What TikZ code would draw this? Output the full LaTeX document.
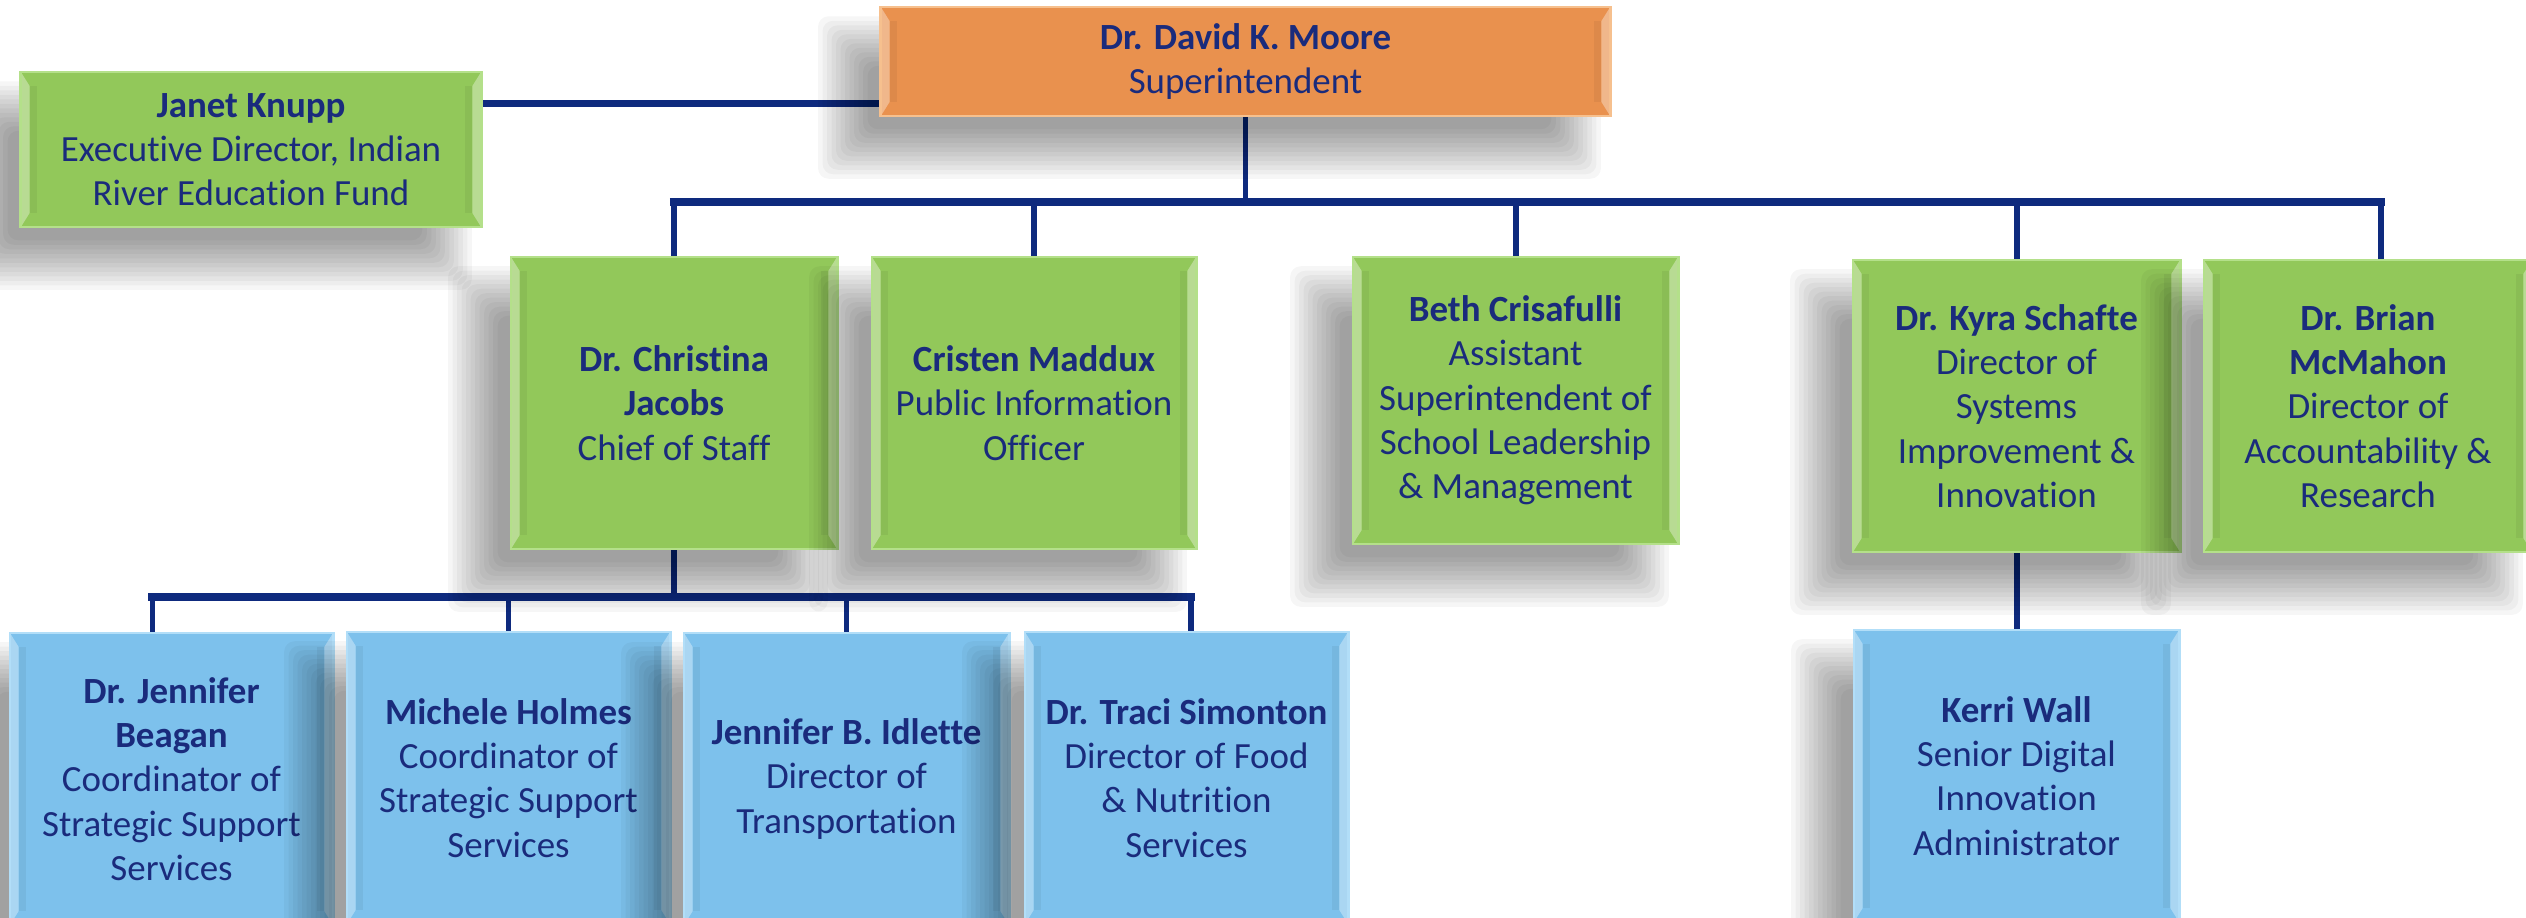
\documentclass[tikz,border=0pt]{standalone}
\usepackage{fontspec}
\setmainfont{Carlito}[Ligatures=NoCommon]
\definecolor{gfill}{HTML}{92C85A}
\definecolor{gedge}{HTML}{B4E08A}
\definecolor{ofill}{HTML}{E9914E}
\definecolor{oedge}{HTML}{F6C08E}
\definecolor{bfill}{HTML}{7DC1EC}
\definecolor{bedge}{HTML}{B2DEF8}
\definecolor{navy}{HTML}{1A2B7C}
\definecolor{lnavy}{HTML}{0E2A7E}
\newcommand\myshadow[1]{%
  \foreach \k in {0,...,11}{%
    \pgfmathsetmacro\sa{-0.36-0.26+0.045*\k}%
    \pgfmathsetmacro\sb{-0.36+0.26-0.045*\k}%
    \fill[black,opacity=0.034,rounded corners=3pt] ([shift={(\sa cm,\sa cm)}]#1.south west) rectangle ([shift={(\sb cm,\sb cm)}]#1.north east);
  }}
\tikzset{
  bevel/.style={path picture={
    \fill[white,opacity=0.35] (path picture bounding box.north west) -- (path picture bounding box.south west)
      -- ([shift={(2.5pt,4pt)}]path picture bounding box.south west) -- ([shift={(2.5pt,-4pt)}]path picture bounding box.north west) -- cycle;
    \fill[white,opacity=0.35] (path picture bounding box.north east) -- (path picture bounding box.south east)
      -- ([shift={(-2.5pt,4pt)}]path picture bounding box.south east) -- ([shift={(-2.5pt,-4pt)}]path picture bounding box.north east) -- cycle;
    \fill[black,opacity=0.05] ([shift={(2.5pt,-4pt)}]path picture bounding box.north west) rectangle ([shift={(4.5pt,4pt)}]path picture bounding box.south west);
    \fill[black,opacity=0.05] ([shift={(-2.5pt,-4pt)}]path picture bounding box.north east) rectangle ([shift={(-4.5pt,4pt)}]path picture bounding box.south east);
  }},
  box/.style={rectangle, inner sep=0pt, align=center, text=navy,
    font=\fontsize{10.5pt}{12.6pt}\selectfont, line width=0.8pt, bevel},
  gbox/.style={box, fill=gfill, draw=gedge},
  obox/.style={box, fill=ofill, draw=oedge},
  bbox/.style={box, fill=bfill, draw=bedge},
  conn/.style={draw=lnavy, line width=1.7pt},
  bus/.style={draw=lnavy, line width=2.4pt},
}
\begin{document}
\begin{tikzpicture}[x=0.01cm,y=-0.01cm]
\clip (0,0) rectangle (2526,918);
\fill[white] (0,0) rectangle (2526,918);
% coordinates for buses
\coordinate (bus1) at (0,202);
\coordinate (bus2) at (0,597);
% nodes (positions)
\path (1245.5,61.5) coordinate (csup)
      (251,149.5) coordinate (cjanet)
      (674,403) coordinate (cchr)
      (1034,403) coordinate (ccri)
      (1515.5,400.5) coordinate (cbeth)
      (2016.5,406) coordinate (ckyra)
      (2368,406) coordinate (cbrian)
      (171.5,779) coordinate (cbea)
      (508.5,778) coordinate (cmic)
      (846.5,779) coordinate (cidl)
      (1186.5,778) coordinate (ctra)
      (2016.5,776) coordinate (cker);
% invisible helper nodes to get anchors for connectors and shadows
\node[minimum width=7.29cm, minimum height=1.09cm, inner sep=0pt] (sup) at (csup) {};
\node[minimum width=4.60cm, minimum height=1.55cm, inner sep=0pt] (janet) at (cjanet) {};
\node[minimum width=3.26cm, minimum height=2.92cm, inner sep=0pt] (chr) at (cchr) {};
\node[minimum width=3.24cm, minimum height=2.92cm, inner sep=0pt] (cri) at (ccri) {};
\node[minimum width=3.25cm, minimum height=2.87cm, inner sep=0pt] (beth) at (cbeth) {};
\node[minimum width=3.27cm, minimum height=2.92cm, inner sep=0pt] (kyra) at (ckyra) {};
\node[minimum width=3.28cm, minimum height=2.92cm, inner sep=0pt] (brian) at (cbrian) {};
\node[minimum width=3.23cm, minimum height=2.92cm, inner sep=0pt] (bea) at (cbea) {};
\node[minimum width=3.23cm, minimum height=2.92cm, inner sep=0pt] (mic) at (cmic) {};
\node[minimum width=3.25cm, minimum height=2.92cm, inner sep=0pt] (idl) at (cidl) {};
\node[minimum width=3.23cm, minimum height=2.92cm, inner sep=0pt] (tra) at (ctra) {};
\node[minimum width=3.25cm, minimum height=2.92cm, inner sep=0pt] (ker) at (cker) {};
% connectors
\coordinate (jl) at ([yshift=-0.32cm]janet.north east);
\draw[conn, line width=2pt] (jl) -- (jl -| sup.west);
\draw[conn] (sup.south) -- (sup.south |- bus1);
\coordinate (b1l) at (chr.north |- bus1);
\coordinate (b1r) at ([xshift=0.13cm]brian.north |- bus1);
\draw[bus] ([xshift=-1.2pt]b1l) -- ([xshift=1.2pt]b1r);
\draw[conn] (chr.north) -- (b1l);
\draw[conn] (cri.north) -- (cri.north |- bus1);
\draw[conn] (beth.north) -- (beth.north |- bus1);
\draw[conn] (kyra.north) -- (kyra.north |- bus1);
\draw[conn] (b1r) -- (b1r |- brian.north);
\draw[conn] (chr.south) -- (chr.south |- bus2);
\coordinate (b2l) at ([xshift=-0.19cm]bea.north |- bus2);
\coordinate (b2r) at ([xshift=0.045cm]tra.north |- bus2);
\draw[bus] ([xshift=-1.2pt]b2l) -- ([xshift=1.2pt]b2r);
\draw[conn] (b2l) -- (b2l |- bea.north);
\draw[conn] (mic.north) -- (mic.north |- bus2);
\draw[conn] (idl.north) -- (idl.north |- bus2);
\draw[conn] (b2r) -- (b2r |- tra.north);
\draw[conn] (kyra.south) -- (ker.north);
% boxes with shadows
\myshadow{sup}
\node[obox, minimum width=7.29cm, minimum height=1.09cm] (supbox) at (csup) {\textbf{Dr. David K. Moore}\\Superintendent};
\myshadow{janet}
\node[gbox, minimum width=4.60cm, minimum height=1.55cm] (janetbox) at (cjanet) {\textbf{Janet Knupp}\\Executive Director, Indian\\River Education Fund};
\myshadow{chr}
\node[gbox, minimum width=3.26cm, minimum height=2.92cm] (chrbox) at (cchr) {\textbf{Dr. Christina}\\\textbf{Jacobs}\\Chief of Staff};
\myshadow{cri}
\node[gbox, minimum width=3.24cm, minimum height=2.92cm] (cribox) at (ccri) {\textbf{Cristen Maddux}\\Public Information\\Officer};
\myshadow{beth}
\node[gbox, minimum width=3.25cm, minimum height=2.87cm] (bethbox) at (cbeth) {\textbf{Beth Crisafulli}\\Assistant\\Superintendent of\\School Leadership\\\& Management};
\myshadow{kyra}
\node[gbox, minimum width=3.27cm, minimum height=2.92cm] (kyrabox) at (ckyra) {\textbf{Dr. Kyra Schafte}\\Director of\\Systems\\Improvement \&\\Innovation};
\myshadow{brian}
\node[gbox, minimum width=3.28cm, minimum height=2.92cm] (brianbox) at (cbrian) {\textbf{Dr. Brian}\\\textbf{McMahon}\\Director of\\Accountability \&\\Research};
\myshadow{bea}
\node[bbox, minimum width=3.23cm, minimum height=2.92cm] (beabox) at (cbea) {\textbf{Dr. Jennifer}\\\textbf{Beagan}\\Coordinator of\\Strategic Support\\Services};
\myshadow{mic}
\node[bbox, minimum width=3.23cm, minimum height=2.92cm] (micbox) at (cmic) {\textbf{Michele Holmes}\\Coordinator of\\Strategic Support\\Services};
\myshadow{idl}
\node[bbox, minimum width=3.25cm, minimum height=2.92cm] (idlbox) at (cidl) {\textbf{Jennifer B. Idlette}\\Director of\\Transportation};
\myshadow{tra}
\node[bbox, minimum width=3.23cm, minimum height=2.92cm] (trabox) at (ctra) {\textbf{Dr. Traci Simonton}\\Director of Food\\\& Nutrition\\Services};
\myshadow{ker}
\node[bbox, minimum width=3.25cm, minimum height=2.92cm] (kerbox) at (cker) {\textbf{Kerri Wall}\\Senior Digital\\Innovation\\Administrator};
\end{tikzpicture}
\end{document}
